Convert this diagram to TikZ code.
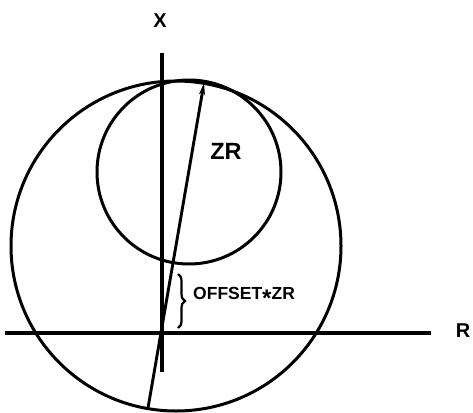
\documentclass[tikz,border=0pt]{standalone}
\usepackage{fontspec}
\setmainfont{Liberation Sans}
\usetikzlibrary{arrows.meta,decorations.pathreplacing}
\begin{document}
\begin{tikzpicture}[x=1pt,y=-1pt,
  axisline/.style={line width=3.3pt},
  curve/.style={line width=3pt},
  lbl/.style={inner sep=0pt,font=\bfseries}]
\useasboundingbox (0,0) rectangle (473,412);
% axes
\coordinate (xtop) at (162,53);
\coordinate (xbot) at (162,372);
\coordinate (rleft) at (5,333);
\coordinate (rright) at (431,333);
\draw[axisline] (xtop) -- (xbot);
\draw[axisline] (rleft) -- (rright);
\node[lbl,font=\fontsize{20}{20}\selectfont\bfseries] (xl) at (160,21) {X};
\node[lbl,font=\fontsize{20}{20}\selectfont\bfseries] (rl) at (463,331) {R};
% circles
\coordinate (bigc) at (176,246);
\coordinate (smallc) at (189,172);
\draw[curve] (bigc) circle[radius=165];
\draw[curve] (smallc) circle[radius=92];
% arrow
\coordinate (abot) at (148,408);
\coordinate (atip) at (204,83);
\draw[line width=2.9pt,-{Stealth[length=12pt,width=6pt]}] (abot) -- (atip);
\node[lbl,font=\fontsize{23.5}{24}\selectfont\bfseries] (zr) at (226,151) {ZR};
% brace
\coordinate (btop) at (178,274);
\coordinate (bbot) at (178,328);
\draw[line width=2.2pt,decorate,decoration={brace,amplitude=7pt}] (btop) -- (bbot);
\node[lbl,anchor=west,font=\fontsize{17.5}{18}\selectfont\bfseries] (off) at (193,297) {OFFSET\raisebox{-0.42em}{\fontsize{24}{24}\selectfont *}ZR};
\end{tikzpicture}
\end{document}
